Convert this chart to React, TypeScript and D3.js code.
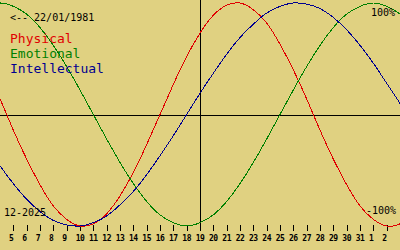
import React, { useEffect } from "react";
import * as d3 from "d3";

// Days from Dec 3 2025 to Jan 4 2026 (index 0..32)
const dayLabels = ["3","4","5","6","7","8","9","10","11","12","13","14","15","16","17","18","19","20","21","22","23","24","25","26","27","28","29","30","31","1","2","3","4"];
const physical = [0.40,0.14,-0.14,-0.40,-0.63,-0.82,-0.94,-1.00,-0.98,-0.89,-0.73,-0.52,-0.27,0.00,0.27,0.52,0.73,0.89,0.98,1.00,0.94,0.82,0.63,0.40,0.14,-0.14,-0.40,-0.63,-0.82,-0.94,-1.00,-0.98,-0.89];
const emotional = [0.97,1.00,0.97,0.90,0.78,0.62,0.43,0.22,0.00,-0.22,-0.43,-0.62,-0.78,-0.90,-0.97,-1.00,-0.97,-0.90,-0.78,-0.62,-0.43,-0.22,0.00,0.22,0.43,0.62,0.78,0.90,0.97,1.00,0.97,0.90,0.78];
const intellectual = [-0.28,-0.46,-0.62,-0.76,-0.87,-0.95,-0.99,-1.00,-0.97,-0.91,-0.81,-0.69,-0.54,-0.37,-0.19,0.00,0.19,0.37,0.54,0.69,0.81,0.91,0.97,1.00,0.99,0.95,0.87,0.76,0.62,0.46,0.28,0.10,-0.10];
const tickIdx = d3.range(2, 31);
const todayIdx = 16;
const birthText = "<-- 22/01/1981";
const monthText = "12-2025";
const series = [
  { name: "Physical", values: physical, color: "#e00000" },
  { name: "Emotional", values: emotional, color: "#008000" },
  { name: "Intellectual", values: intellectual, color: "#000090" },
];

const W = 400, H = 250;
const FONT = "'DejaVu Sans Mono', monospace";

export default function App() {
  useEffect(() => {
    document.body.style.margin = "0";
  }, []);
  const x = d3.scaleLinear().domain([1, 31]).range([0, 400]);
  const y = d3.scaleLinear().domain([-1, 1]).range([226, 3]);
  const line = d3
    .line<number>()
    .x((_, i) => x(i))
    .y((v) => y(v))
    .curve(d3.curveNatural);
  const y0 = Math.round(y(0)) + 0.5;
  const xc = Math.round(x(todayIdx)) + 0.5;
  return (
    <svg width={W} height={H} style={{ display: "block" }} fontFamily={FONT}>
      <rect width={W} height={H} fill="#e0d181" />
      <line x1={0} x2={W} y1={y0} y2={y0} stroke="#000" strokeWidth={1} shapeRendering="crispEdges" />
      <line x1={xc} x2={xc} y1={0} y2={230} stroke="#000" strokeWidth={1} shapeRendering="crispEdges" />
      {tickIdx.map((i) => {
        const tx = Math.round(x(i)) + 0.5;
        return (
          <g key={i}>
            <line x1={tx} x2={tx} y1={225} y2={231} stroke="#000" strokeWidth={1} shapeRendering="crispEdges" />
            <text x={x(i) - 4.3} y={241} fontSize={8} fontWeight="bold" letterSpacing={-0.5} fill="#000">{dayLabels[i]}</text>
          </g>
        );
      })}
      {series.map((s) => (
        <path key={s.name} d={line(s.values) || ""} fill="none" stroke={s.color} strokeWidth={1} shapeRendering="crispEdges" />
      ))}
      <text x={10} y={21} fontSize={10} fill="#000">{birthText}</text>
      {series.map((s, i) => (
        <text key={s.name} x={10} y={43 + i * 15} fontSize={13} fill={s.color}>{s.name}</text>
      ))}
      <text x={4} y={216} fontSize={10} fill="#000">{monthText}</text>
      <text x={395} y={16} fontSize={10} fill="#000" textAnchor="end">100%</text>
      <text x={396} y={214} fontSize={10} fill="#000" textAnchor="end">-100%</text>
    </svg>
  );
}
